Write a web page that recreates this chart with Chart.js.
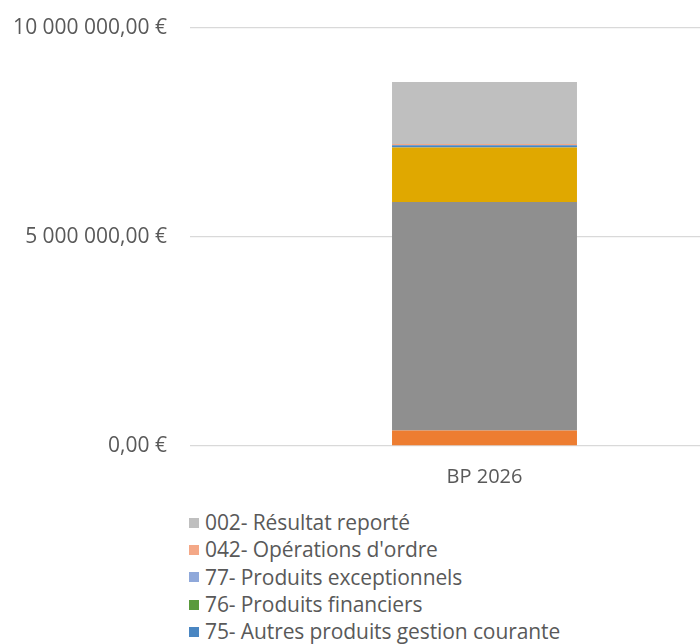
<!DOCTYPE html>
<html>
<head>
<meta charset="utf-8">
<script src="https://cdn.jsdelivr.net/npm/chart.js@4"></script>
<style>
  html, body { margin: 0; padding: 0; background: #fff; overflow: hidden; }
  #frame { position: relative; width: 700px; height: 644px; overflow: hidden; }
  #wrap { position: absolute; left: 0; top: 0; width: 790px; height: 500px; }
  #legend { position: absolute; left: 189px; top: 509px; font-family: "Open Sans", sans-serif; font-size: 21px; color: #595959; white-space: nowrap; letter-spacing: -0.1px; }
  #legend .row { height: 27.3px; line-height: 27.3px; display: flex; align-items: center; }
  #legend .box { width: 10px; height: 10px; margin-right: 6px; flex: none; }
</style>
</head>
<body>
<div id="frame">
  <div id="wrap"><canvas id="c" width="790" height="500"></canvas></div>
  <div id="legend"></div>
</div>
<script>
// Categories
const categories = ["BP 2026"];
// Series (stacking order, bottom to top)
const seriesLabels = [
  "70- Produits des services",
  "73- Impôts et taxes",
  "74- Dotations et participations",
  "75- Autres produits gestion courante",
  "76- Produits financiers",
  "77- Produits exceptionnels",
  "042- Opérations d'ordre",
  "002- Résultat reporté"
];
const seriesValues = [
  [370000],
  [5470000],
  [1300000],
  [53000],
  [0],
  [0],
  [31000],
  [1484000]
];
const seriesColors = [
  "#ED7D31",
  "#8F8F8F",
  "#E0A800",
  "#4A86C2",
  "#5A9A3C",
  "#8FA8DA",
  "#F4A887",
  "#BFBFBF"
];
// Y ticks
const yTicks = [0, 5000000, 10000000];

function fmtEuro(v) {
  const parts = v.toFixed(2).split(".");
  const intPart = parts[0].replace(/\B(?=(\d{3})+(?!\d))/g, " ");
  return intPart + "," + parts[1] + " €";
}

const datasets = seriesLabels.map((lab, i) => ({
  label: lab,
  data: seriesValues[i],
  backgroundColor: seriesColors[i],
  borderWidth: 0,
  barPercentage: 0.314,
  categoryPercentage: 1.0
}));

const fontFamily = "'Open Sans', sans-serif";

new Chart(document.getElementById("c"), {
  type: "bar",
  data: { labels: categories, datasets },
  options: {
    responsive: false,
    animation: false,
    devicePixelRatio: 1,
    layout: { padding: { top: 28, right: 11, left: 0, bottom: 0 } },
    plugins: { legend: { display: false }, tooltip: { enabled: false } },
    scales: {
      x: {
        stacked: true,
        grid: { display: false, drawTicks: false },
        border: { display: false },
        ticks: { color: "#595959", font: { family: fontFamily, size: 20 }, padding: 19 },
        afterFit: (s) => { s.height = 54; }
      },
      y: {
        stacked: true,
        min: 0,
        max: 10000000,
        afterBuildTicks: (s) => { s.ticks = yTicks.map(v => ({ value: v })); },
        grid: { color: "#D9D9D9", lineWidth: 1.3, drawTicks: false },
        border: { display: false },
        ticks: {
          color: "#595959",
          font: { family: fontFamily, size: 21 },
          padding: 23,
          callback: (v) => fmtEuro(v)
        },
        afterFit: (s) => { s.width = 190; s.paddingTop = 0; s.paddingBottom = 0; }
      }
    }
  }
});

// Legend (reversed, like the reference)
const legend = document.getElementById("legend");
for (let i = seriesLabels.length - 1; i >= 0; i--) {
  const row = document.createElement("div");
  row.className = "row";
  const box = document.createElement("span");
  box.className = "box";
  box.style.background = seriesColors[i];
  const txt = document.createElement("span");
  txt.textContent = seriesLabels[i];
  row.appendChild(box);
  row.appendChild(txt);
  legend.appendChild(row);
}
</script>
</body>
</html>
